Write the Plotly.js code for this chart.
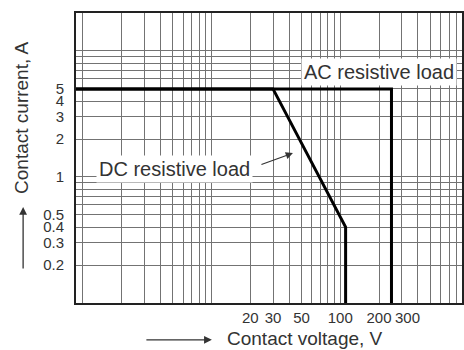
<!DOCTYPE html>
<html>
<head>
<meta charset="utf-8">
<script src="https://cdn.plot.ly/plotly-3.0.1.min.js"></script>
<style>html,body{margin:0;padding:0;background:#fff;}#chart{width:464px;height:350px;}</style>
</head>
<body>
<div id="chart"></div>
<script>
// Series (contact voltage V, contact current A)
var acVoltage = [0.5, 250, 250];
var acCurrent = [5, 5, 0.05];
var dcVoltage = [0.5, 30, 110, 110];
var dcCurrent = [5, 5, 0.4, 0.05];

// Tick labels (the 300 label is placed as an axis-anchored annotation to keep it clear of 200)
var xLabelVals = [20, 30, 50, 100, 200];
var xLabelText = ['20', '30', '50', '100', '200'];
var xExtraLabelVal = 300;
var xExtraLabelText = '300';
var yLabelVals = [0.2, 0.3, 0.4, 0.5, 1, 2, 3, 4, 5];
var yLabelText = ['0.2', '0.3', '0.4', '0.5', '1', '2', '3', '4', '5'];

// Log grid positions
var mantissas = [1, 2, 3, 4, 5, 6, 7, 8, 9];
var xDecades = [1, 10, 100];
var yDecades = [0.1, 1];

var xGrid = [];
xDecades.forEach(function (d) { mantissas.forEach(function (m) { xGrid.push(+(m * d).toPrecision(3)); }); });
xGrid.push(1000);
var yGrid = [];
yDecades.forEach(function (d) { mantissas.forEach(function (m) { yGrid.push(+(m * d).toPrecision(3)); }); });
yGrid.push(10, 20);

function labelsFor(grid, vals, texts) {
  return grid.map(function (v) { var i = vals.indexOf(v); return i >= 0 ? texts[i] : ''; });
}

var FONT = '"Liberation Sans", Arial, Helvetica, sans-serif';

var traces = [
  { x: acVoltage, y: acCurrent, mode: 'lines', line: { color: '#000', width: 3 }, hoverinfo: 'skip', name: 'AC resistive load' },
  { x: dcVoltage, y: dcCurrent, mode: 'lines', line: { color: '#000', width: 3 }, hoverinfo: 'skip', name: 'DC resistive load' }
];

var axisCommon = {
  type: 'log',
  showgrid: true,
  gridcolor: '#737373',
  gridwidth: 1,
  zeroline: false,
  showline: true,
  mirror: true,
  linecolor: '#222',
  linewidth: 2,
  ticks: '',
  tickmode: 'array',
  tickangle: 0,
  tickfont: { family: FONT, size: 15, color: '#333' }
};

var layout = {
  width: 464,
  height: 350,
  margin: { l: 76, r: 2, t: 13, b: 47 },
  paper_bgcolor: '#fff',
  plot_bgcolor: '#fff',
  showlegend: false,
  font: { family: FONT, color: '#333' },
  xaxis: Object.assign({}, axisCommon, {
    range: [-0.054, 2.946],
    tickvals: xGrid,
    ticktext: labelsFor(xGrid, xLabelVals, xLabelText),
    ticklabelstandoff: 0
  }),
  yaxis: Object.assign({}, axisCommon, {
    range: [-1, Math.log10(20)],
    tickvals: yGrid,
    ticktext: labelsFor(yGrid, yLabelVals, yLabelText),
    ticklabelstandoff: 7
  }),
  annotations: [
    { xref: 'x', yref: 'paper', x: Math.log10(xExtraLabelVal), y: -0.05, xshift: 6, text: xExtraLabelText, showarrow: false,
      font: { family: FONT, size: 15, color: '#333' }, xanchor: 'center', yanchor: 'middle', borderpad: 0 },
    { xref: 'paper', yref: 'paper', x: 0.785, y: 0.797, text: 'AC resistive load', showarrow: false,
      font: { family: FONT, size: 20, color: '#333' }, bgcolor: '#fff', borderpad: 2, xanchor: 'center', yanchor: 'middle' },
    { xref: 'paper', yref: 'paper', x: 0.254, y: 0.462, text: 'DC resistive load', showarrow: false,
      font: { family: FONT, size: 20, color: '#333' }, bgcolor: '#fff', borderpad: 2, xanchor: 'center', yanchor: 'middle' },
    { xref: 'paper', yref: 'paper', x: 0.562, y: 0.517, text: '', showarrow: true, ax: -33, ay: 12,
      arrowhead: 2, arrowsize: 1.2, arrowwidth: 1.2, arrowcolor: '#333' },
    { xref: 'paper', yref: 'paper', x: -0.140, y: 0.638, text: 'Contact current, A', textangle: -90, showarrow: false,
      font: { family: FONT, size: 19, color: '#333' }, xanchor: 'center', yanchor: 'middle' },
    { xref: 'paper', yref: 'paper', x: -0.137, y: 0.331, text: '', showarrow: true, ax: 0, ay: 63,
      arrowhead: 2, arrowsize: 1.2, arrowwidth: 1.3, arrowcolor: '#333' },
    { xref: 'paper', yref: 'paper', x: 0.386, y: -0.124, text: 'Contact voltage, V', showarrow: false,
      font: { family: FONT, size: 19, color: '#333' }, xanchor: 'left', yanchor: 'middle' },
    { xref: 'paper', yref: 'paper', x: 0.352, y: -0.127, text: '', showarrow: true, ax: -67, ay: 0,
      arrowhead: 2, arrowsize: 1.2, arrowwidth: 1.3, arrowcolor: '#333' }
  ]
};

Plotly.newPlot('chart', traces, layout, { displayModeBar: false, staticPlot: true });
</script>
</body>
</html>
